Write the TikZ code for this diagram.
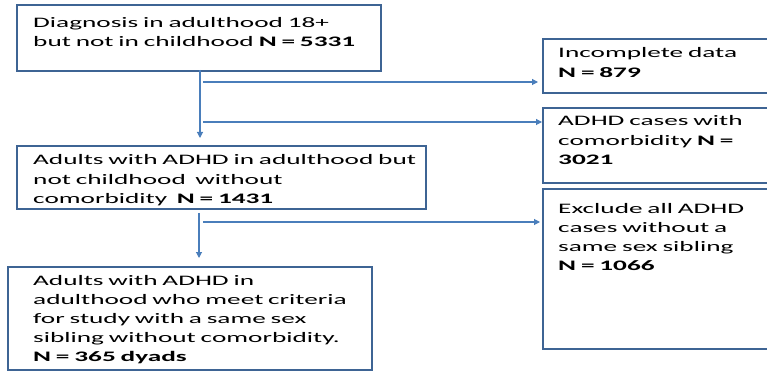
\documentclass[tikz,border=0pt]{standalone}
\usepackage{fontspec}
\setmainfont{Carlito}[FakeStretch=1.88]
\usetikzlibrary{arrows.meta}
\definecolor{boxcol}{HTML}{3E6494}
\definecolor{arrcol}{HTML}{4A7EBB}
\tikzset{
  box/.style={draw=boxcol, line width=2.4pt, rectangle, inner sep=0pt, anchor=north west},
  txt/.style={inner sep=0pt, anchor=base west, text width=420pt, align=left,
    font=\fontsize{14.5}{19.2}\selectfont},
  arr/.style={draw=arrcol, line width=1.1pt, -{Triangle[length=6pt,width=6pt]}},
  lin/.style={draw=arrcol, line width=1.1pt}
}
\begin{document}
\begin{tikzpicture}[x=1pt,y=-1pt]
\useasboundingbox (0,0) rectangle (767,371);
\clip (0,0) rectangle (767,371);
% boxes
\node[box, minimum width=364pt, minimum height=66pt] (b1) at (16,4) {};
\node[box, minimum width=409pt, minimum height=63pt] (b2) at (16,145) {};
\node[box, minimum width=364pt, minimum height=103pt] (b3) at (7,266) {};
\node[box, minimum width=260pt, minimum height=54pt] (r1) at (542,38) {};
\node[box, minimum width=260pt, minimum height=75pt] (r2) at (542,107) {};
\node[box, minimum width=260pt, minimum height=160pt] (r3) at (542,188) {};
% texts
\node[txt] (t1) at (33,27.3) {Diagnosis in adulthood 18+\\but not in childhood \textbf{N = 5331}};
\node[txt] (t2) at (33,165) {Adults with ADHD in adulthood but\\not childhood\ \ without\\comorbidity\ \ \textbf{N = 1431}};
\node[txt] (t3) at (33,285) {Adults with ADHD in\\adulthood who meet criteria\\for study with a same sex\\sibling without comorbidity.\\\textbf{N = 365 dyads}};
\node[txt] (t4) at (558,58) {Incomplete data\\\textbf{N = 879}};
\node[txt] (t5) at (558,126) {ADHD cases with\\comorbidity \textbf{N =}\\\textbf{3021}};
\node[txt] (t6) at (558,213) {Exclude all ADHD\\cases without a\\same sex sibling\\\textbf{N = 1066}};
% connectors
\coordinate (v1) at (200,70);
\coordinate (v2) at (199,213);
\coordinate (j1) at (203,82);
\coordinate (j2) at (203,122);
\coordinate (j3) at (203,222);
\draw[arr, shorten >=7pt] (v1) -- (v1 |- b2.north);
\draw[arr, shorten >=8pt] (v2) -- (v2 |- b3.north);
\draw[arr, shorten >=4pt] (j1) -- (j1 -| r1.west);
\draw[arr, shorten >=0pt] (j2) -- (j2 -| r2.west);
\draw[arr, shorten >=2pt] (j3) -- (j3 -| r3.west);
\end{tikzpicture}
\end{document}
